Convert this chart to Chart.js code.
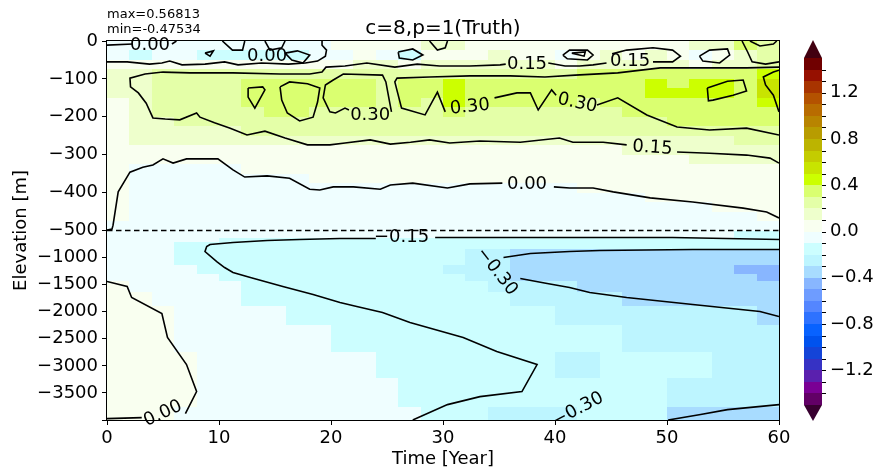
<!DOCTYPE html>
<html><head><meta charset="utf-8">
<script src="https://cdn.jsdelivr.net/npm/chart.js@4.4.0/dist/chart.umd.min.js"></script>
<style>html,body{margin:0;padding:0;background:#fff;}</style>
</head><body>
<canvas id="c" width="877" height="471"></canvas>
<script>
// ---------------- DATA ----------------
const timeEdges = [0,2,4,6,8,10,12,14,16,18,20,22,24,26,28,30,32,34,36,38,40,42,44,46,48,50,52,54,56,58,60];
const upperDepthEdges = [0,25,50,75,100,125,150,175,200,225,250,275,300,325,350,375,400,425,450,475,500];
const lowerDepthEdges = [500,630,720,850,1130,1300,1440,1630,1900,2240,2740,3220,3760,4000];

const upperGrid = [
 [-0.05,-0.05,-0.05,-0.05,-0.05,-0.05,-0.05,-0.05,-0.05,-0.05, 0.05,0.05,0.05,0.05,0.15, 0.15,0.05,0.05,0.05,0.05, 0.05,0.05,0.05,0.05,0.05, 0.05,0.15,0.15,0.35,0.25],
 [-0.05,-0.15,-0.05,-0.05,-0.15,-0.15,-0.15,-0.15,-0.15,-0.05, -0.05,0.05,-0.05,-0.15,0.05, 0.05,0.05,0.15,0.05,0.05, -0.05,0.05,0.15,0.05,0.15, 0.05,-0.05,0.05,0.15,0.25],
 [0.05,0.05,0.05,0.05,0.05,0.05,0.05,0.05,0.05,0.05, 0.05,0.15,0.15,0.05,0.15, 0.15,0.15,0.15,0.15,0.15, 0.05,0.15,0.15,0.15,0.15, 0.15,0.05,0.15,0.15,0.25],
 [0.15,0.15,0.25,0.25,0.25,0.25,0.25,0.25,0.25,0.25, 0.25,0.25,0.25,0.25,0.25, 0.25,0.25,0.25,0.25,0.25, 0.25,0.35,0.35,0.35,0.35, 0.35,0.35,0.35,0.35,0.45],
 [0.15,0.15,0.25,0.25,0.25,0.25,0.35,0.35,0.35,0.35, 0.35,0.35,0.25,0.35,0.35, 0.45,0.35,0.35,0.35,0.35, 0.35,0.35,0.35,0.35,0.45, 0.35,0.45,0.45,0.35,0.55],
 [0.15,0.15,0.25,0.25,0.25,0.25,0.35,0.35,0.35,0.35, 0.35,0.35,0.25,0.35,0.35, 0.45,0.35,0.35,0.35,0.35, 0.35,0.35,0.35,0.35,0.45, 0.45,0.45,0.45,0.35,0.55],
 [0.05,0.15,0.25,0.25,0.25,0.25,0.35,0.35,0.35,0.35, 0.35,0.35,0.25,0.35,0.25, 0.45,0.35,0.35,0.35,0.35, 0.35,0.25,0.35,0.35,0.35, 0.35,0.35,0.35,0.35,0.45],
 [0.05,0.15,0.25,0.25,0.25,0.25,0.25,0.35,0.35,0.25, 0.25,0.25,0.25,0.25,0.25, 0.35,0.25,0.25,0.25,0.25, 0.25,0.25,0.25,0.35,0.35, 0.35,0.35,0.35,0.35,0.35],
 [0.05,0.15,0.15,0.25,0.25,0.25,0.25,0.25,0.25,0.25, 0.25,0.25,0.25,0.25,0.25, 0.25,0.25,0.25,0.25,0.25, 0.25,0.25,0.25,0.25,0.25, 0.35,0.35,0.35,0.35,0.35],
 [0.05,0.15,0.15,0.15,0.15,0.15,0.25,0.25,0.25,0.25, 0.25,0.25,0.25,0.25,0.25, 0.25,0.25,0.25,0.25,0.25, 0.25,0.25,0.25,0.25,0.25, 0.25,0.25,0.25,0.25,0.25],
 [0.05,0.15,0.15,0.15,0.15,0.15,0.15,0.15,0.15,0.15, 0.15,0.15,0.15,0.15,0.15, 0.15,0.15,0.15,0.15,0.15, 0.15,0.15,0.15,0.15,0.15, 0.15,0.15,0.15,0.25,0.25],
 [0.05,0.05,0.05,0.05,0.05,0.05,0.05,0.05,0.05,0.05, 0.05,0.05,0.05,0.05,0.05, 0.05,0.05,0.05,0.05,0.05, 0.05,0.05,0.05,0.15,0.15, 0.15,0.15,0.15,0.15,0.15],
 [0.05,0.05,0.05,0.05,0.05,0.05,0.05,0.05,0.05,0.05, 0.05,0.05,0.05,0.05,0.05, 0.05,0.05,0.05,0.05,0.05, 0.05,0.05,0.05,0.05,0.05, 0.05,0.15,0.15,0.15,0.15],
 [0.05,-0.05,-0.05,-0.05,-0.05,-0.05,0.05,0.05,0.05,0.05, 0.05,0.05,0.05,0.05,0.05, 0.05,0.05,0.05,0.05,0.05, 0.05,0.05,0.05,0.05,0.05, 0.05,0.05,0.05,0.05,0.05],
 [0.05,-0.05,-0.05,-0.05,-0.05,-0.05,-0.05,-0.05,-0.05,0.05, 0.05,0.05,0.05,0.05,0.05, 0.05,0.05,0.05,0.05,0.05, 0.05,0.05,0.05,0.05,0.05, 0.05,0.05,0.05,0.05,0.05],
 [0.05,-0.05,-0.05,-0.05,-0.05,-0.05,-0.05,-0.05,-0.05,-0.05, -0.05,-0.05,-0.05,-0.05,-0.05, -0.05,-0.05,-0.05,-0.05,-0.05, -0.05,0.05,0.05,0.05,0.05, 0.05,0.05,0.05,0.05,0.05],
 [0.05,-0.05,-0.05,-0.05,-0.05,-0.05,-0.05,-0.05,-0.05,-0.05, -0.05,-0.05,-0.05,-0.05,-0.05, -0.05,-0.05,-0.05,-0.05,-0.05, -0.05,-0.05,-0.05,-0.05,0.05, 0.05,0.05,0.05,0.05,0.05],
 [0.05,-0.05,-0.05,-0.05,-0.05,-0.05,-0.05,-0.05,-0.05,-0.05, -0.05,-0.05,-0.05,-0.05,-0.05, -0.05,-0.05,-0.05,-0.05,-0.05, -0.05,-0.05,-0.05,-0.05,-0.05, -0.05,-0.05,0.05,0.05,0.05],
 [0.05,-0.05,-0.05,-0.05,-0.05,-0.05,-0.05,-0.05,-0.05,-0.05, -0.05,-0.05,-0.05,-0.05,-0.05, -0.05,-0.05,-0.05,-0.05,-0.05, -0.05,-0.05,-0.05,-0.05,-0.05, -0.05,-0.05,-0.05,-0.05,0.05],
 [-0.05,-0.05,-0.05,-0.05,-0.05,-0.05,-0.05,-0.05,-0.05,-0.05, -0.05,-0.05,-0.05,-0.05,-0.05, -0.05,-0.05,-0.05,-0.05,-0.05, -0.05,-0.05,-0.05,-0.05,-0.05, -0.05,-0.05,-0.05,-0.05,-0.05]
];

const lowerGrid = [
 [-0.05,-0.05,-0.05,-0.05,-0.05,-0.05,-0.05,-0.05,-0.05,-0.05, -0.05,-0.05,-0.05,-0.05,-0.05, -0.05,-0.05,-0.05,-0.05,-0.05, -0.05,-0.05,-0.05,-0.05,-0.05, -0.05,-0.05,-0.05,-0.15,-0.15],
 [-0.05,-0.05,-0.05,-0.05,-0.05,-0.15,-0.15,-0.15,-0.15,-0.15, -0.15,-0.15,-0.15,-0.15,-0.15, -0.15,-0.15,-0.15,-0.15,-0.15, -0.15,-0.15,-0.15,-0.15,-0.15, -0.15,-0.15,-0.15,-0.15,-0.15],
 [-0.05,-0.05,-0.05,-0.15,-0.15,-0.15,-0.15,-0.15,-0.15,-0.15, -0.15,-0.15,-0.15,-0.15,-0.15, -0.15,-0.15,-0.15,-0.15,-0.15, -0.15,-0.15,-0.15,-0.15,-0.15, -0.15,-0.15,-0.15,-0.15,-0.15],
 [-0.05,-0.05,-0.05,-0.15,-0.15,-0.15,-0.15,-0.15,-0.15,-0.15, -0.15,-0.15,-0.15,-0.15,-0.15, -0.15,-0.25,-0.25,-0.35,-0.35, -0.35,-0.35,-0.35,-0.35,-0.35, -0.35,-0.35,-0.35,-0.35,-0.35],
 [-0.05,-0.05,-0.05,-0.05,-0.15,-0.15,-0.15,-0.15,-0.15,-0.15, -0.15,-0.15,-0.15,-0.15,-0.15, -0.25,-0.25,-0.25,-0.35,-0.35, -0.35,-0.35,-0.35,-0.35,-0.35, -0.35,-0.35,-0.35,-0.45,-0.45],
 [-0.05,-0.05,-0.05,-0.05,-0.05,-0.15,-0.15,-0.15,-0.15,-0.15, -0.15,-0.15,-0.15,-0.15,-0.15, -0.15,-0.25,-0.25,-0.35,-0.35, -0.35,-0.35,-0.35,-0.35,-0.35, -0.35,-0.35,-0.35,-0.35,-0.45],
 [0.05,-0.05,-0.05,-0.05,-0.05,-0.05,-0.15,-0.15,-0.15,-0.15, -0.15,-0.15,-0.15,-0.15,-0.15, -0.15,-0.15,-0.25,-0.25,-0.25, -0.25,-0.35,-0.35,-0.35,-0.35, -0.35,-0.35,-0.35,-0.35,-0.35],
 [0.05,0.05,-0.05,-0.05,-0.05,-0.05,-0.15,-0.15,-0.15,-0.15, -0.15,-0.15,-0.15,-0.15,-0.15, -0.15,-0.15,-0.15,-0.25,-0.25, -0.25,-0.25,-0.25,-0.35,-0.35, -0.35,-0.35,-0.35,-0.35,-0.35],
 [0.05,0.05,0.05,-0.05,-0.05,-0.05,-0.05,-0.05,-0.15,-0.15, -0.15,-0.15,-0.15,-0.15,-0.15, -0.15,-0.15,-0.15,-0.15,-0.15, -0.25,-0.25,-0.25,-0.25,-0.25, -0.25,-0.25,-0.25,-0.25,-0.35],
 [0.05,0.05,0.05,-0.05,-0.05,-0.05,-0.05,-0.05,-0.05,-0.05, -0.15,-0.15,-0.15,-0.15,-0.15, -0.15,-0.15,-0.15,-0.15,-0.15, -0.15,-0.15,-0.15,-0.25,-0.25, -0.25,-0.25,-0.25,-0.25,-0.25],
 [0.05,0.05,0.05,0.05,-0.05,-0.05,-0.05,-0.05,-0.05,-0.05, -0.05,-0.05,-0.15,-0.15,-0.15, -0.15,-0.15,-0.15,-0.15,-0.15, -0.25,-0.25,-0.15,-0.15,-0.15, -0.15,-0.15,-0.25,-0.25,-0.25],
 [0.05,0.05,0.05,0.05,-0.05,-0.05,-0.05,-0.05,-0.05,-0.05, -0.05,-0.05,-0.05,-0.15,-0.15, -0.15,-0.15,-0.15,-0.15,-0.15, -0.15,-0.15,-0.15,-0.15,-0.15, -0.25,-0.25,-0.25,-0.25,-0.25],
 [0.05,0.05,0.05,-0.05,-0.05,-0.05,-0.05,-0.05,-0.05,-0.05, -0.05,-0.05,-0.05,-0.05,-0.15, -0.15,-0.15,-0.25,-0.25,-0.25, -0.25,-0.15,-0.15,-0.15,-0.15, -0.35,-0.35,-0.35,-0.35,-0.35]
];

// contour lines: [year, elevation m]
const c000_topA = [[0,-11],[2.3,-8]];
const c000_topB = [[5.8,-8],[6.2,0]];
const c000_upper = [[0,-55],[1.8,-55],[3.8,-61],[4.9,-58],[5.6,-53],[6.7,-63],[8.75,-61],[10.5,-55],[11.7,-63],[13.8,-58],[16.2,-61],[17.7,-58],[18.8,-53],[19.5,-40],[19.6,-24],[19.2,-11],[19.2,0]];
const c000_midA = [[0,-499],[0.45,-496],[0.54,-486],[1.0,-398],[2.05,-346],[3.2,-333],[4.1,-327],[5.0,-311],[5.9,-322],[7.1,-311],[9.9,-311],[11.25,-340],[12.3,-359],[14.3,-356],[16.3,-362],[18.1,-391],[19.0,-393],[20.2,-385],[22.0,-385],[24.4,-391],[25.3,-380],[27.3,-375],[30.4,-388],[32.4,-377],[35.3,-375]];
const c000_midB = [[39.9,-385],[41.3,-388],[43.4,-388],[45.2,-398],[48.5,-414],[52.3,-425],[56.8,-441],[58.9,-451],[60,-467]];
const c000_lowA = [[0,-1442],[1.8,-1535],[2.2,-1738],[4.9,-2034],[5.4,-2477],[7.1,-2976],[8.0,-3475],[7.0,-3882]];
const c000_lowB = [[0,-3974],[3.1,-3956]];
const c015_main = [[46.4,-274],[44.3,-267],[41.6,-267],[40.4,-256],[36.9,-267],[33.3,-264],[30.6,-269],[28.8,-261],[27.1,-267],[25.3,-272],[23.5,-261],[21.25,-269],[19.9,-274],[17.9,-274],[15.9,-256],[14.1,-238],[12.5,-248],[11.0,-230],[9.6,-216],[8.3,-201],[8.0,-190],[6.5,-208],[5.2,-206],[4.1,-203],[3.5,-164],[2.8,-137],[2.1,-121],[2.05,-98],[3.4,-87],[5.0,-82],[7.4,-84],[11.25,-84],[15.45,-87],[18.1,-87],[19.2,-82],[19.55,-69],[21.25,-66],[23.2,-58],[25.7,-69],[27.7,-61],[29.7,-66],[32.4,-66],[35.1,-63],[35.6,-61]];
const c015_right = [[50.9,-293],[53.8,-296],[57.1,-301],[59.2,-309],[60,-322]];
const c015_mid = [[39.4,-58],[40.9,-66],[42.2,-66],[43.4,-63],[44.6,-58]];
const c015_loop = [[48.75,-55],[50.5,-55],[51.2,-40],[50.5,-24],[48.75,-18],[46.4,-24],[45.1,-34]];
const c015_edge = [[56.7,0],[57.2,-29],[57.6,-55],[58.8,-61],[60,-55]];
const c030_a = [[12.6,-124],[13.9,-121],[14.1,-129],[13.2,-177],[12.6,-148],[12.6,-124]];
const c030_b = [[15.45,-121],[16.3,-108],[17.9,-113],[19.0,-124],[18.8,-161],[18.4,-201],[17.2,-211],[16.1,-190],[15.6,-156],[15.45,-121]];
const c030_c = [[25.4,-187],[25.2,-156],[24.9,-108],[24.6,-90],[21.1,-87],[20.2,-103],[19.5,-116],[19.3,-150],[19.9,-187],[20.4,-190],[21.25,-177],[21.6,-182]];
const c030_m1 = [[30.2,-187],[29.5,-135],[28.4,-195],[26.3,-177],[25.7,-108],[25.9,-98],[28.8,-95],[32.4,-92],[36.0,-92],[39.1,-95],[41.8,-90],[45.6,-84],[49.4,-71],[57.1,-71],[60,-69]];
const c030_m2 = [[34.6,-150],[36.6,-137],[37.8,-137],[38.5,-182],[39.7,-129],[40.1,-143]];
const c030_m3 = [[43.75,-169],[45.6,-150],[48.2,-195],[50.9,-227],[53.8,-235],[57.1,-230],[60,-248]];
const c045_a = [[53.6,-124],[55.4,-106],[56.8,-103],[57.1,-132],[55.9,-143],[54.1,-156],[53.7,-158],[53.6,-124]];
const c045_b = [[60,-77],[59.5,-82],[58.6,-95],[58.8,-116],[59.5,-143],[60,-187]];
const loop1 = [[8.75,-32],[9.5,-26],[9.2,-40],[8.75,-32]];
const loop2 = [[15.9,-32],[17.0,-26],[18.1,-37],[17.5,-58],[16.5,-50],[15.9,-32]];
const loop3 = [[26.0,-29],[27.3,-21],[28.2,-37],[27.3,-50],[26.1,-45],[26.0,-29]];
const loop4 = [[40.7,-37],[41.3,-24],[42.9,-24],[43.4,-37],[42.9,-50],[41.1,-47],[40.7,-37]];
const loop4i = [[41.5,-32],[42.7,-29],[42.6,-40],[41.5,-32]];
const loop5 = [[52.9,-40],[53.8,-24],[55.4,-21],[55.6,-37],[54.7,-58],[53.2,-53],[52.9,-40]];
const cup1 = [[10.3,0],[11.2,-24],[12.1,-24],[12.3,0]];
const cup2 = [[14.1,0],[14.55,-24],[15.6,-18],[15.9,0]];
const cup3 = [[28.8,0],[29.5,-24],[30.2,-18],[30.4,0]];
const cup4 = [[57.4,0],[58.3,-13],[59.5,-8],[59.8,0]];
const cm015_main = [[24.0,-648],[20.8,-648],[17.2,-666],[14.3,-685],[11.25,-722],[9.2,-759],[8.9,-796],[8.75,-888],[9.8,-1073],[10.5,-1184],[11.25,-1276],[12.8,-1369],[15.7,-1535],[18.4,-1683],[20.8,-1831],[22.3,-1904],[24.6,-2015],[27.05,-2200],[31.8,-2477],[34.8,-2736],[38.4,-2976],[37.05,-3475],[33.3,-3568],[30.4,-3716],[27.3,-4000]];
const cm015_right = [[29.3,-629],[41.3,-629],[50.5,-629],[60,-666]];
const cm030_top = [[35.4,-999],[37.8,-925],[41.3,-888],[44.0,-870],[52.3,-851],[60,-851]];
const cm030_bot = [[36.9,-1387],[39.3,-1479],[41.3,-1553],[43.1,-1646],[46.4,-1738],[52.3,-1868],[58.3,-1997],[60,-2089]];
const cm030_deep = [[50.1,-4000],[53.0,-3900],[55.4,-3808],[60,-3716]];
const contourLines = [c000_topA,c000_topB,c000_upper,c000_midA,c000_midB,c000_lowA,c000_lowB,
  c015_main,c015_right,c015_mid,c015_loop,c015_edge,c030_a,c030_b,c030_c,c030_m1,c030_m2,c030_m3,
  c045_a,c045_b,loop1,loop2,loop3,loop4,loop4i,loop5,cup1,cup2,cup3,cup4,
  cm015_main,cm015_right,cm030_top,cm030_bot,cm030_deep];

// inline contour labels: [text, year, elevation, rotation deg]
const contourLabels = [
 ['0.00',3.84,-11,0],['0.00',14.3,-40,0],['0.15',37.5,-61,0],['0.15',46.7,-53,0],
 ['0.30',23.5,-195,0],['0.30',32.4,-174,-6],['0.30',42.0,-164,12],['0.15',48.7,-282,4],
 ['0.00',37.5,-377,0],['\u22120.15',26.3,-629,0],['\u22120.30',34.8,-1258,52],
 ['\u22120.30',42.05,-3808,-28],['0.00',5.0,-3882,-25]
];

const yTickElev = [0,-100,-200,-300,-400,-500,-1000,-1500,-2000,-2500,-3000,-3500,-4000];
const yTickLabels = ['0','\u2212100','\u2212200','\u2212300','\u2212400','\u2212500','\u22121000','\u22121500','\u22122000','\u22122500','\u22123000','\u22123500',''];

const cbLevels = [-1.5,-1.4,-1.3,-1.2,-1.1,-1.0,-0.9,-0.8,-0.7,-0.6,-0.5,-0.4,-0.3,-0.2,-0.1,0,0.1,0.2,0.3,0.4,0.5,0.6,0.7,0.8,0.9,1.0,1.1,1.2,1.3,1.4,1.5];
const cbColors = ['#620066','#7a0094','#5a20ae','#3632c4','#1444d8','#0052ee','#0862ff','#2e72ff','#5486ff','#6e9cff',
  '#88b6ff','#a8dcff','#bdf5ff','#ccfeff','#effeff','#f9fff0','#eeffcc','#e4ffa8','#daff70','#ccff00',
  '#c8e400','#c4cc00','#bcb400','#b89c00','#b88400','#b86c00','#b45200','#a83400','#961000','#700000'];
const cbUnder = '#380030', cbOver = '#420010';
const cbTickVals = [1.2,0.8,0.4,0.0,-0.4,-0.8,-1.2];
const cbTickLabels = ['1.2','0.8','0.4','0.0','\u22120.4','\u22120.8','\u22121.2'];

// ---------------- HELPERS ----------------
function tE(e){ return e >= -500 ? e : -500 + (e + 500) / 7; }
function bandColor(v){
  if (v < cbLevels[0]) return cbUnder;
  for (let i = 0; i < cbColors.length; i++) if (v < cbLevels[i+1]) return cbColors[i];
  return cbOver;
}
const FONT = '"DejaVu Sans", "Liberation Sans", sans-serif';
Chart.defaults.font.family = FONT;
Chart.defaults.color = '#000';

const heatPlugin = {
  id: 'heat',
  beforeDraw(chart){
    const c = chart.ctx; c.save(); c.fillStyle = '#fff'; c.fillRect(0,0,chart.width,chart.height); c.restore();
  },
  beforeDatasetsDraw(chart){
    const {ctx, chartArea: a, scales: {x, y}} = chart;
    ctx.save();
    ctx.beginPath(); ctx.rect(a.left, a.top, a.right - a.left, a.bottom - a.top); ctx.clip();
    const draw = (grid, edges) => {
      for (let r = 0; r < grid.length; r++) {
        const y0 = Math.round(y.getPixelForValue(tE(-edges[r])));
        const y1 = Math.round(y.getPixelForValue(tE(-edges[r+1])));
        for (let k = 0; k < grid[r].length; k++) {
          const x0 = Math.round(x.getPixelForValue(timeEdges[k]));
          const x1 = Math.round(x.getPixelForValue(timeEdges[k+1]));
          ctx.fillStyle = bandColor(grid[r][k]);
          ctx.fillRect(x0, y0, x1 - x0, y1 - y0);
        }
      }
    };
    draw(upperGrid, upperDepthEdges);
    draw(lowerGrid, lowerDepthEdges);
    ctx.restore();
  },
  afterDatasetsDraw(chart){
    const {ctx, scales: {x, y}} = chart;
    ctx.save();
    ctx.font = '18px ' + FONT; ctx.fillStyle = '#000';
    ctx.textAlign = 'center'; ctx.textBaseline = 'middle';
    for (const [txt, t, e, rot] of contourLabels) {
      const px = x.getPixelForValue(t), py = y.getPixelForValue(tE(e));
      ctx.save(); ctx.translate(px, py); ctx.rotate(rot * Math.PI / 180);
      ctx.fillText(txt, 0, 0); ctx.restore();
    }
    ctx.restore();
  },
  afterDraw(chart){
    const {ctx, chartArea: a} = chart;
    ctx.save();
    ctx.strokeStyle = '#000'; ctx.lineWidth = 1;
    ctx.strokeRect(Math.round(a.left) - 0.5, Math.round(a.top) - 0.5, Math.round(a.right - a.left) + 1, Math.round(a.bottom - a.top) + 1);
    ctx.fillStyle = '#000';
    ctx.textAlign = 'center'; ctx.textBaseline = 'alphabetic';
    ctx.font = '20px ' + FONT;
    ctx.fillText('c=8,p=1(Truth)', (a.left + a.right) / 2, 34);
    ctx.textAlign = 'left'; ctx.font = '13px ' + FONT;
    ctx.fillText('max=0.56813', a.left, 18);
    ctx.fillText('min=-0.47534', a.left, 33);
    ctx.font = '18px ' + FONT; ctx.textAlign = 'center'; ctx.textBaseline = 'middle';
    ctx.fillText('Time [Year]', (a.left + a.right) / 2, 459);
    ctx.save(); ctx.translate(21, (a.top + a.bottom) / 2); ctx.rotate(-Math.PI / 2);
    ctx.fillText('Elevation [m]', 0, 0); ctx.restore();
    // colorbar
    const cx0 = 804, cx1 = 822, cTop = 58, cBot = 405;
    const vy = v => cBot - (v - cbLevels[0]) / (cbLevels[cbLevels.length-1] - cbLevels[0]) * (cBot - cTop);
    for (let i = 0; i < cbColors.length; i++) {
      const ya = Math.round(vy(cbLevels[i+1])), yb = Math.round(vy(cbLevels[i]));
      ctx.fillStyle = cbColors[i]; ctx.fillRect(cx0, ya, cx1 - cx0, yb - ya);
    }
    ctx.fillStyle = cbOver; ctx.beginPath();
    ctx.moveTo(cx0, cTop); ctx.lineTo(cx1, cTop); ctx.lineTo((cx0 + cx1) / 2, 40); ctx.closePath(); ctx.fill();
    ctx.fillStyle = cbUnder; ctx.beginPath();
    ctx.moveTo(cx0, cBot); ctx.lineTo(cx1, cBot); ctx.lineTo((cx0 + cx1) / 2, 421); ctx.closePath(); ctx.fill();
    ctx.strokeStyle = '#000'; ctx.lineWidth = 1;
    for (let i = 1; i < cbLevels.length - 1; i++) {
      const yy = Math.round(vy(cbLevels[i])) + 0.5;
      ctx.beginPath(); ctx.moveTo(cx1, yy); ctx.lineTo(cx1 + 4, yy); ctx.stroke();
    }
    ctx.fillStyle = '#000'; ctx.font = '18px ' + FONT; ctx.textAlign = 'left'; ctx.textBaseline = 'middle';
    cbTickVals.forEach((v, i) => ctx.fillText(cbTickLabels[i], 830, vy(v)));
    ctx.restore();
  }
};

const datasets = contourLines.map(line => ({
  data: line.map(([t, e]) => ({x: t, y: tE(e)})),
  showLine: true, borderColor: '#000', borderWidth: 1.6, pointRadius: 0, fill: false, tension: 0
}));
datasets.push({
  data: [{x: 0, y: tE(-500)}, {x: 60, y: tE(-500)}],
  showLine: true, borderColor: '#000', borderWidth: 1.3, borderDash: [5.5, 3.5], pointRadius: 0, fill: false
});

new Chart(document.getElementById('c'), {
  type: 'scatter',
  data: { datasets },
  plugins: [heatPlugin],
  options: {
    responsive: false, animation: false, devicePixelRatio: 1,
    layout: { padding: { left: 0, right: 98, top: 41, bottom: 0 } },
    plugins: { legend: { display: false }, tooltip: { enabled: false }, title: { display: false } },
    events: [],
    scales: {
      x: {
        type: 'linear', min: 0, max: 60,
        ticks: { stepSize: 10, font: { size: 18 }, color: '#000', padding: 3, maxRotation: 0 },
        grid: { drawOnChartArea: false, drawTicks: true, tickLength: 5, color: '#000', tickColor: '#000' },
        border: { display: false },
        afterFit(s) { s.height = 51; }
      },
      y: {
        type: 'linear', min: tE(-4000), max: 0,
        afterBuildTicks(axis) { axis.ticks = yTickElev.map(e => ({ value: tE(e) })); },
        ticks: { autoSkip: false, font: { size: 18 }, color: '#000', padding: 4,
          callback: (v, i) => yTickLabels[i] },
        grid: { drawOnChartArea: false, drawTicks: true, tickLength: 5, color: '#000', tickColor: '#000' },
        border: { display: false },
        afterFit(s) { s.width = 107; }
      }
    }
  }
});
</script>
</body></html>
